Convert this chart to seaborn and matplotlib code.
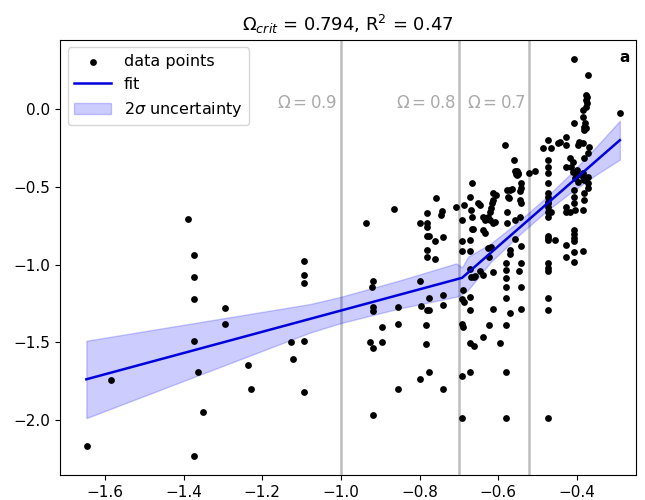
import matplotlib
matplotlib.use("Agg")
import matplotlib.pyplot as plt
import seaborn as sns
import pandas as pd
import numpy as np

# ---- data ----
pts_x = [
    -1.646, -1.585, -1.388, -1.373, -1.373, -1.373, -1.373, -1.363, -1.350, -1.373,
    -1.294, -1.294, -1.235, -1.229, -1.093, -1.093, -1.093, -1.128, -1.121, -1.093, -1.093,
    -0.936, -0.865, -0.918, -0.922, -0.918, -0.918, -0.895, -0.927, -0.918, -0.895,
    -0.918, -0.856, -0.856, -0.856, -0.798, -0.782, -0.782, -0.781, -0.759, -0.742,
    -0.746, -0.781, -0.777, -0.760, -0.740, -0.782, -0.781, -0.760, -0.798, -0.777,
    -0.740, -0.797, -0.781, -0.777, -0.740, -0.783, -0.783, -0.777, -0.798, -0.740,
    -0.707, -0.691, -0.691, -0.691, -0.688, -0.673, -0.666, -0.670, -0.667, -0.668,
    -0.665, -0.673, -0.671, -0.671, -0.670, -0.662, -0.658, -0.646, -0.638, -0.690,
    -0.691, -0.688, -0.673, -0.673, -0.691, -0.690, -0.673, -0.662, -0.638, -0.691,
    -0.673, -0.692, -0.651, -0.646, -0.638, -0.634, -0.638, -0.634, -0.627, -0.623,
    -0.618, -0.613, -0.605, -0.613, -0.619, -0.622, -0.615, -0.626, -0.622, -0.613,
    -0.609, -0.613, -0.613, -0.624, -0.596, -0.581, -0.581, -0.581, -0.581, -0.581,
    -0.581, -0.581, -0.581, -0.579, -0.579, -0.575, -0.572, -0.577, -0.570, -0.565,
    -0.560, -0.558, -0.555, -0.552, -0.549, -0.556, -0.553, -0.549, -0.523, -0.507,
    -0.543, -0.543, -0.545, -0.544, -0.543, -0.558, -0.545, -0.558, -0.571, -0.571,
    -0.543, -0.543, -0.547, -0.543, -0.543, -0.571, -0.583,
    -0.473, -0.473, -0.473, -0.473, -0.473, -0.473, -0.473, -0.473, -0.473, -0.473,
    -0.473, -0.473, -0.473, -0.473, -0.473, -0.473, -0.473, -0.473, -0.473, -0.473,
    -0.473, -0.486, -0.465, -0.456, -0.448, -0.444, -0.465,
    -0.408, -0.372, -0.376, -0.374, -0.377, -0.375, -0.378, -0.385, -0.291, -0.385,
    -0.379, -0.381, -0.378, -0.381, -0.408, -0.427, -0.427, -0.396, -0.385, -0.397,
    -0.370, -0.373, -0.381, -0.418, -0.410, -0.414, -0.427, -0.401, -0.410, -0.401,
    -0.405, -0.397, -0.385, -0.385, -0.381, -0.372, -0.372, -0.372, -0.383, -0.381,
    -0.385, -0.408, -0.408, -0.408, -0.406, -0.427, -0.427, -0.418, -0.408, -0.408,
    -0.408, -0.408, -0.427, -0.408, -0.385, -0.427, -0.408,
]
pts_y = [
    -2.167, -1.742, -0.706, -0.938, -1.079, -1.221, -1.489, -1.693, -1.946, -2.231,
    -1.281, -1.382, -1.645, -1.800, -0.978, -1.066, -1.120, -1.499, -1.605, -1.489, -1.821,
    -0.730, -0.644, -1.103, -1.141, -1.270, -1.300, -1.399, -1.500, -1.534, -1.500,
    -1.967, -1.270, -1.382, -1.800, -0.730, -0.669, -0.734, -0.755, -0.573, -0.654,
    -0.680, -0.815, -0.815, -0.845, -0.824, -0.905, -0.952, -0.965, -1.103, -1.212,
    -1.195, -1.264, -1.291, -1.291, -1.259, -1.388, -1.510, -1.688, -1.737, -1.800,
    -0.631, -0.712, -0.845, -0.910, -0.616, -0.566, -0.472, -0.648, -0.691, -0.772,
    -0.772, -0.841, -0.910, -1.030, -1.077, -1.077, -1.070, -1.038, -1.068, -1.163,
    -1.219, -1.238, -1.210, -1.291, -1.382, -1.399, -1.506, -1.523, -1.463, -1.716,
    -1.688, -1.985, -0.605, -0.616, -0.691, -0.712, -0.777, -0.798, -0.895, -0.948,
    -0.884, -0.541, -0.552, -0.584, -0.637, -0.659, -0.605, -0.691, -0.712, -0.734,
    -0.723, -1.045, -1.287, -1.386, -1.506, -0.991, -1.034, -1.088, -1.145, -1.212,
    -1.388, -1.688, -1.985, -0.659, -0.730, -0.562, -0.573, -0.519, -0.519, -0.515,
    -0.326, -0.395, -0.405, -0.395, -0.412, -0.415, -0.423, -0.418, -0.408, -0.399,
    -0.476, -0.508, -0.524, -0.584, -0.605, -0.712, -0.691, -0.837, -0.905, -0.931,
    -0.878, -0.991, -1.038, -1.145, -1.287, -1.309, -0.230,
    -0.198, -0.326, -0.369, -0.412, -0.472, -0.541, -0.562, -0.594, -0.605, -0.627,
    -0.659, -0.691, -0.815, -0.830, -0.841, -0.991, -1.023, -1.038, -1.212, -1.291,
    -1.985, -0.251, -0.251, -0.841, -0.219, -0.208, -0.659,
    0.326, 0.221, 0.092, 0.081, 0.060, 0.039, 0.017, -0.005, -0.026, -0.051,
    -0.086, -0.112, -0.122, -0.133, -0.090, -0.176, -0.230, -0.208, -0.219, -0.230,
    -0.241, -0.283, -0.315, -0.315, -0.337, -0.369, -0.369, -0.391, -0.401, -0.423,
    -0.444, -0.466, -0.412, -0.434, -0.455, -0.434, -0.476, -0.508, -0.541, -0.584,
    -0.648, -0.519, -0.562, -0.605, -0.648, -0.627, -0.659, -0.659, -0.777, -0.802,
    -0.830, -0.845, -0.873, -0.916, -0.910, -0.948, -0.981,
]

fit_x = [-1.647, -0.692, -0.291]
fit_y = [-1.737, -1.084, -0.198]

band_x = [-1.647, -1.079, -1.0, -0.85, -0.707, -0.692, -0.677, -0.62, -0.55, -0.48, -0.42, -0.35, -0.291]
band_hi = [-1.489, -1.253, -1.206, -1.10, -0.991, -1.017, -0.948, -0.865, -0.725, -0.570, -0.423, -0.238, -0.073]
band_lo = [-1.987, -1.437, -1.375, -1.28, -1.206, -1.190, -1.163, -0.985, -0.815, -0.660, -0.543, -0.418, -0.323]

omega_vals = [0.9, 0.8, 0.7]
omega_lines = [-1.0, -0.699, -0.523]

title = r"$\Omega_{crit}$ = 0.794, R$^2$ = 0.47"

# ---- plot ----
fig = plt.figure(figsize=(6.45, 5.0), dpi=100)
ax = fig.add_axes([0.093, 0.05, 0.893, 0.871])

df = pd.DataFrame({"x": pts_x, "y": pts_y})
fit_df = pd.DataFrame({"x": fit_x, "y": fit_y})

for xv, om in zip(omega_lines, omega_vals):
    ax.axvline(xv, color="#bdbdbd", lw=1.8, zorder=0)
    ax.text(xv - 0.008, 0.04, rf"$\Omega = {om}$", color="#aaaaaa", fontsize=12,
            ha="right", va="center")

sns.scatterplot(data=df, x="x", y="y", ax=ax, color="black", s=24,
                edgecolor="black", linewidth=0, label="data points", zorder=3)
sns.lineplot(data=fit_df, x="x", y="y", ax=ax, color="#0000dd", lw=1.8,
             label="fit", zorder=4, sort=False)
ax.fill_between(band_x, band_lo, band_hi, color="blue", alpha=0.2,
                label=r"2$\sigma$ uncertainty", zorder=2)

ax.set_xlim(-1.714, -0.25)
ax.set_ylim(-2.353, 0.45)
ax.set_xticks([-1.6, -1.4, -1.2, -1.0, -0.8, -0.6, -0.4])
ax.set_yticks([0.0, -0.5, -1.0, -1.5, -2.0])
ax.tick_params(labelsize=11)
ax.set_xlabel("")
ax.set_ylabel("")
ax.set_title(title, fontsize=13)

ax.text(0.99, 0.975, "a", transform=ax.transAxes, ha="right", va="top",
        fontsize=11, fontweight="bold")

ax.legend(loc="upper left", fontsize=11.5, framealpha=0.8, handlelength=2.3)

fig.savefig("out.png", dpi=100)
